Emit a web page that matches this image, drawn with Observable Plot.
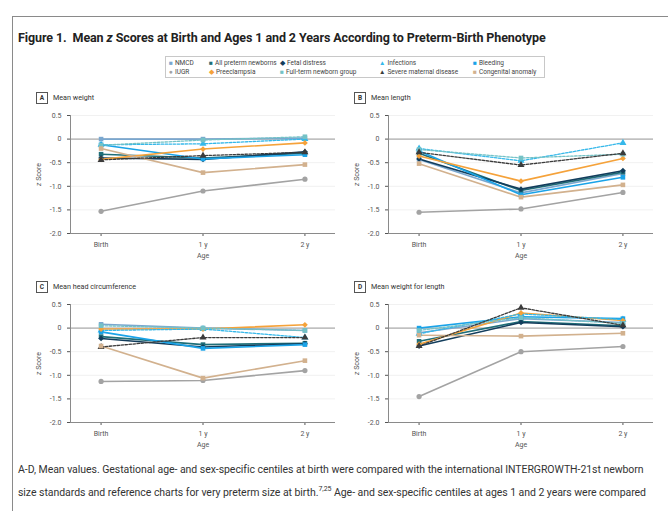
<!DOCTYPE html>
<html><head><meta charset="utf-8">
<script src="https://cdn.jsdelivr.net/npm/d3@7"></script>
<script src="https://cdn.jsdelivr.net/npm/@observablehq/plot@0.6"></script>
<style>
body{margin:0;width:668px;height:511px;overflow:hidden;background:#fff;font-family:Roboto,"Open Sans",sans-serif;position:relative;color:#222}
.frame{position:absolute;left:12px;top:16px;width:700px;height:520px;border-left:1.5px solid #8a8a8a;border-top:1.5px solid #8a8a8a}
.title{position:absolute;left:18px;top:30px;font-weight:700;font-size:12.5px;white-space:nowrap;letter-spacing:-0.1px}
.legend{position:absolute;left:165px;top:56px;width:380px;height:22px;border:1px solid #c8c8c8;box-sizing:border-box}
.li{position:absolute;font-size:6.5px;white-space:nowrap;color:#444;line-height:8px}
.li span{font-size:6.5px;margin-right:2px}
.ptitle{position:absolute;font-size:7.2px;color:#333;white-space:nowrap;line-height:12px}
.ptitle b{display:inline-block;width:10px;height:10px;border:1px solid #555;font-weight:700;font-size:6.5px;text-align:center;line-height:10px;margin-right:5px;vertical-align:middle}
.panel{position:absolute}
.caption{position:absolute;left:18px;font-size:10.5px;color:#333;white-space:nowrap;letter-spacing:-0.05px}
</style></head><body>
<div class="frame"></div>
<div class="title">Figure 1.&nbsp; Mean <i>z</i> Scores at Birth and Ages 1 and 2 Years According to Preterm-Birth Phenotype</div>
<div class="legend" id="legend"></div>
<div id="panels"></div>
<div class="caption" style="top:463px">A-D, Mean values. Gestational age- and sex-specific centiles at birth were compared with the international INTERGROWTH-21st newborn</div>
<div class="caption" style="top:485px">size standards and reference charts for very preterm size at birth.<sup style="font-size:7px">7,25</sup> Age- and sex-specific centiles at ages 1 and 2 years were compared</div>
<script>
const ages = ["Birth", "1 y", "2 y"];
const series = ["NMCD", "All preterm newborns", "Fetal distress", "Infections", "Bleeding",
  "IUGR", "Preeclampsia", "Full-term newborn group", "Severe maternal disease", "Congenital anomaly"];
const yTicks = [0.5, 0, -0.5, -1.0, -1.5, -2.0];
const panelTitles = ["Mean weight", "Mean length", "Mean head circumference", "Mean weight for length"];
const panelLetters = ["A", "B", "C", "D"];

// values per series (same order as `series`), at Birth, 1 y, 2 y
const weightValues = [
  [0.0, 0.0, 0.02],
  [-0.32, -0.4, -0.3],
  [-0.4, -0.43, -0.27],
  [-0.12, -0.1, 0.0],
  [-0.12, -0.42, -0.33],
  [-1.53, -1.1, -0.85],
  [-0.43, -0.21, -0.08],
  [-0.13, -0.02, 0.05],
  [-0.44, -0.35, -0.28],
  [-0.2, -0.71, -0.54]
];
const lengthValues = [
  [-0.43, -1.14, -0.73],
  [-0.3, -1.09, -0.7],
  [-0.42, -1.06, -0.67],
  [-0.2, -0.46, -0.08],
  [-0.25, -1.18, -0.81],
  [-1.55, -1.48, -1.13],
  [-0.36, -0.89, -0.41],
  [-0.22, -0.4, -0.32],
  [-0.28, -0.55, -0.3],
  [-0.52, -1.23, -0.97]
];
const headValues = [
  [0.08, 0.0, -0.05],
  [-0.18, -0.35, -0.32],
  [-0.22, -0.4, -0.33],
  [-0.05, -0.02, -0.2],
  [-0.08, -0.43, -0.35],
  [-1.13, -1.11, -0.9],
  [-0.02, -0.02, 0.07],
  [0.05, 0.0, -0.05],
  [-0.4, -0.2, -0.2],
  [-0.38, -1.06, -0.69]
];
const wflValues = [
  [-0.1, 0.2, 0.12],
  [-0.28, 0.14, 0.05],
  [-0.38, 0.12, 0.03],
  [-0.12, 0.3, 0.18],
  [0.0, 0.24, 0.2],
  [-1.45, -0.5, -0.39],
  [-0.34, 0.32, 0.16],
  [-0.05, 0.22, 0.1],
  [-0.38, 0.43, 0.06],
  [-0.15, -0.17, -0.11]
];

// styles
const colors = ["#7aa7cf", "#1f6e78", "#123d5c", "#35b8ea", "#1aa3e8", "#a3a3a3", "#f5a23a", "#74c2c6", "#3b3b3b", "#d2b18e"];
const symbols = ["square", "square", "diamond2", "triangle", "square", "circle", "diamond2", "square", "triangle", "square"];
const legendGlyphs = ["■", "■", "◆", "▲", "■", "●", "◆", "■", "▲", "■"];
const dashedSeries = new Set(["Infections", "Full-term newborn group", "Severe maternal disease"]);

// legend
const legCols = [3, 43, 114, 213, 307];
const leg = document.getElementById("legend");
series.forEach((s, k) => {
  const row = Math.floor(k / 5), col = k % 5;
  const el = document.createElement("div");
  el.className = "li";
  el.style.left = legCols[col] + "px";
  el.style.top = (2 + row * 9) + "px";
  el.innerHTML = `<span style="color:${colors[k]}">${legendGlyphs[k]}</span>${s}`;
  leg.appendChild(el);
});

function fmt(d) { return d === 0 ? "0" : (d < 0 ? "-" : "") + Math.abs(d).toFixed(1); }

function panel(vals) {
  const data = series.flatMap((s, i) => vals[i].map((v, j) => ({series: s, age: j, z: v})));
  const solid = data.filter(d => !dashedSeries.has(d.series));
  const dash = data.filter(d => dashedSeries.has(d.series));
  const svg = Plot.plot({
    width: 320, height: 158, marginLeft: 50, marginRight: 5, marginTop: 10, marginBottom: 30,
    style: {fontFamily: "Roboto, sans-serif", fontSize: "7px", color: "#555", background: "transparent", overflow: "visible"},
    x: {domain: [-0.3, 2.3], ticks: [0, 1, 2], tickFormat: i => ages[i], label: "Age", labelAnchor: "center", labelArrow: "none", labelOffset: 24, tickSize: 3},
    y: {domain: [-2, 0.5], ticks: yTicks, tickFormat: fmt, label: "z Score", labelAnchor: "center", labelArrow: "none", labelOffset: 34, tickSize: 3},
    color: {domain: series, range: colors},
    symbol: {domain: series, range: symbols},
    marks: [
      Plot.gridY(yTicks, {stroke: "#f1f1f1", strokeOpacity: 1}),
      Plot.ruleY([0], {stroke: "#9a9a9a", strokeWidth: 1}),
      Plot.ruleY([-2], {stroke: "#8a8a8a"}),
      Plot.ruleX([-0.3], {stroke: "#8a8a8a"}),
      Plot.line(solid, {x: "age", y: "z", z: "series", stroke: "series", strokeWidth: 1.6}),
      Plot.line(dash, {x: "age", y: "z", z: "series", stroke: "series", strokeWidth: 1.3, strokeDasharray: "2.5,1.5"}),
      Plot.dot(data, {x: "age", y: "z", fill: "series", symbol: "series", r: 2.6})
    ]
  });
  svg.querySelectorAll("text").forEach(t => {
    if (t.textContent === "z Score") {
      t.textContent = "";
      const a = document.createElementNS("http://www.w3.org/2000/svg", "tspan");
      a.setAttribute("font-style", "italic"); a.textContent = "z";
      const b = document.createElementNS("http://www.w3.org/2000/svg", "tspan");
      b.textContent = " Score";
      t.appendChild(a); t.appendChild(b);
    }
  });
  return svg;
}

const allValues = [weightValues, lengthValues, headValues, wflValues];
const pos = [[20, 105, 36, 92], [338, 105, 354, 92], [20, 294, 36, 281], [338, 294, 354, 281]];
const host = document.getElementById("panels");
allValues.forEach((v, i) => {
  const wrap = document.createElement("div");
  wrap.className = "panel";
  wrap.style.left = pos[i][0] + "px";
  wrap.style.top = pos[i][1] + "px";
  wrap.appendChild(panel(v));
  host.appendChild(wrap);
  const t = document.createElement("div");
  t.className = "ptitle";
  t.style.left = pos[i][2] + "px";
  t.style.top = pos[i][3] + "px";
  t.innerHTML = `<b>${panelLetters[i]}</b>${panelTitles[i]}`;
  host.appendChild(t);
});
</script>
</body></html>
